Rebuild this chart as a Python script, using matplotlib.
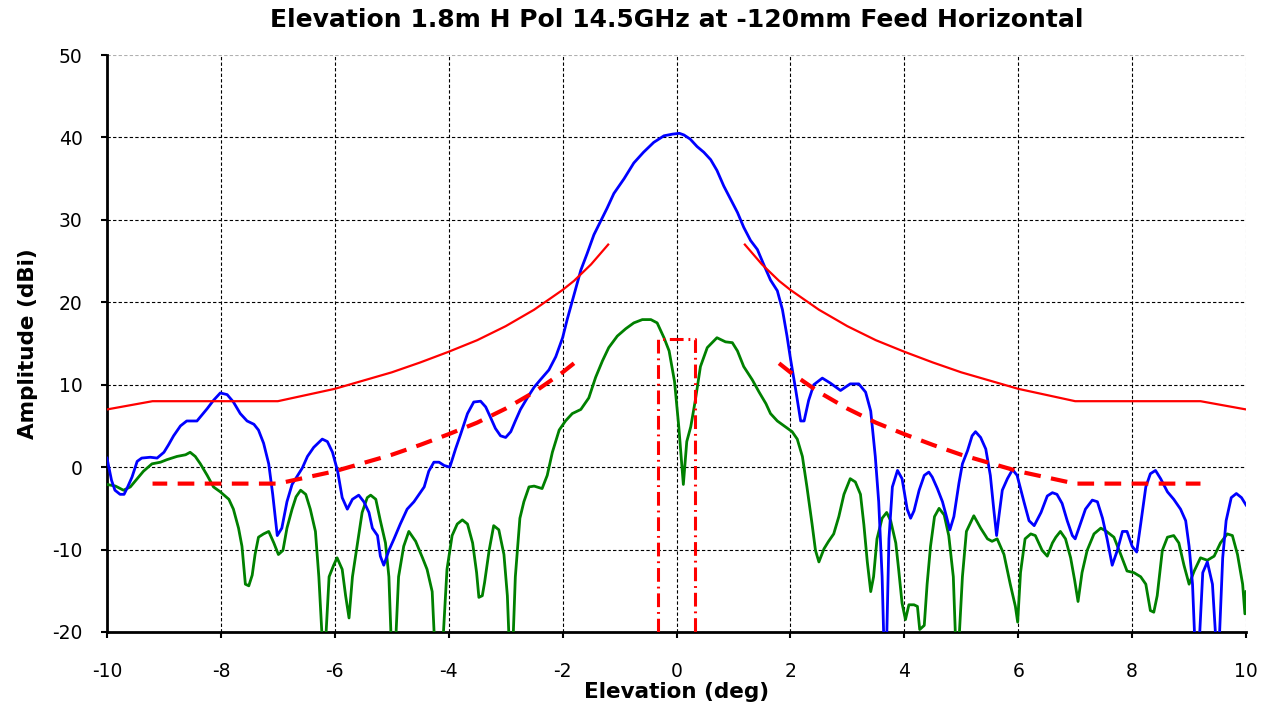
"""
Elevation pattern, 1.8m antenna, H pol, 14.5GHz
"""
import numpy as np
import matplotlib
matplotlib.use('Agg')
import matplotlib.pyplot as plt

plt.rcParams['axes.unicode_minus'] = False

title = 'Elevation 1.8m H Pol 14.5GHz at -120mm Feed Horizontal'

# co-polar pattern (elevation deg, dBi)
copol = [(-10.0, 1.1), (-9.92, -1.6), (-9.86, -2.8), (-9.77, -3.3), (-9.70, -3.3), (-9.65, -2.6),
         (-9.56, -1.2), (-9.47, 0.7), (-9.39, 1.1), (-9.24, 1.2), (-9.12, 1.1), (-9.0, 1.8),
         (-8.92, 2.7),
         (-8.83, 3.8), (-8.71, 5.0), (-8.60, 5.6), (-8.42, 5.6), (-8.36, 6.1), (-8.24, 7.1),
         (-8.13, 8.1), (-8.01, 9.0), (-7.89, 8.8), (-7.78, 7.9), (-7.66, 6.5), (-7.54, 5.6),
         (-7.42, 5.2), (-7.34, 4.5), (-7.25, 2.9), (-7.16, 0.4), (-7.09, -3.3), (-7.01, -8.3),
         (-6.93, -7.4), (-6.84, -4.2), (-6.75, -2.1), (-6.66, -1.1), (-6.57, -0.1), (-6.48, 1.3),
         (-6.37, 2.4), (-6.22, 3.4), (-6.13, 3.1), (-6.04, 1.8), (-5.95, -0.5), (-5.87, -3.7),
         (-5.78, -5.1), (-5.69, -3.9), (-5.58, -3.4), (-5.49, -4.2), (-5.40, -5.5), (-5.34, -7.4),
         (-5.25, -8.3), (-5.20, -10.8), (-5.14, -11.9), (-5.05, -10.1), (-4.96, -8.7), (-4.85, -6.9),
         (-4.73, -5.1), (-4.61, -4.2), (-4.52, -3.3), (-4.43, -2.4), (-4.35, -0.5), (-4.26, 0.6),
         (-4.17, 0.6), (-4.08, 0.2), (-3.98, 0.0), (-3.88, 2.2), (-3.79, 4.0), (-3.67, 6.5),
         (-3.56, 7.9), (-3.44, 8.0), (-3.35, 7.3), (-3.27, 6.1), (-3.18, 4.7), (-3.09, 3.8),
         (-3.0, 3.6), (-2.91, 4.3), (-2.83, 5.6), (-2.74, 7.0), (-2.62, 8.4), (-2.50, 9.7),
         (-2.39, 10.6), (-2.24, 11.8), (-2.12, 13.4), (-2.0, 15.7), (-1.92, 17.9), (-1.80, 20.9),
         (-1.68, 23.9), (-1.57, 25.9), (-1.45, 28.2), (-1.30, 30.3), (-1.22, 31.4), (-1.10, 33.2),
         (-0.92, 35.0), (-0.75, 36.9), (-0.58, 38.2), (-0.40, 39.4), (-0.22, 40.2), (-0.07, 40.4),
         (0.05, 40.5), (0.13, 40.3), (0.24, 39.8), (0.36, 38.9), (0.48, 38.2), (0.60, 37.3),
         (0.71, 36.0), (0.83, 34.1), (0.95, 32.5), (1.07, 30.9), (1.18, 29.1), (1.30, 27.5),
         (1.42, 26.4), (1.53, 24.6), (1.65, 22.7), (1.77, 21.4), (1.86, 19.1), (1.94, 15.9),
         (2.0, 13.2), (2.09, 9.5), (2.18, 5.6), (2.24, 5.6), (2.32, 8.1), (2.41, 10.0),
         (2.56, 10.8), (2.70, 10.2), (2.88, 9.3), (3.05, 10.1), (3.20, 10.1), (3.32, 9.1),
         (3.41, 6.8), (3.49, 1.3), (3.55, -4.2), (3.61, -13.3), (3.64, -21), (3.69, -21),
         (3.73, -8.7), (3.79, -2.4), (3.88, -0.4), (3.96, -1.4), (4.05, -5.1), (4.11, -6.2),
         (4.17, -5.3), (4.26, -2.8), (4.35, -1.0), (4.43, -0.6), (4.49, -1.2), (4.58, -2.6),
         (4.67, -4.2), (4.74, -6.0), (4.80, -7.6), (4.87, -6.0), (4.96, -1.9), (5.02, 0.4),
         (5.11, 2.0), (5.19, 3.8), (5.25, 4.3), (5.34, 3.6), (5.43, 2.2), (5.51, -1.0),
         (5.57, -5.1), (5.62, -8.3), (5.66, -6.0), (5.72, -2.8), (5.81, -1.4), (5.90, -0.3),
         (5.98, -1.0), (6.10, -4.2), (6.19, -6.5), (6.28, -7.1), (6.40, -5.5), (6.51, -3.5),
         (6.60, -3.1), (6.68, -3.3), (6.77, -4.4), (6.86, -6.5), (6.95, -8.3), (7.0, -8.7),
         (7.09, -6.9), (7.18, -5.1), (7.30, -4.0), (7.39, -4.2), (7.48, -6.2), (7.56, -8.7),
         (7.65, -11.9), (7.74, -10.1), (7.83, -7.8), (7.91, -7.8), (8.0, -9.6), (8.08, -10.3),
         (8.15, -6.9), (8.24, -2.4), (8.32, -0.8), (8.41, -0.4), (8.50, -1.4), (8.62, -3.0),
         (8.73, -3.9), (8.85, -5.1), (8.94, -6.5), (9.0, -9.6), (9.06, -14.2), (9.10, -21),
         (9.18, -21), (9.24, -12.8), (9.32, -11.5), (9.41, -14.2), (9.47, -21), (9.53, -21),
         (9.59, -11.0), (9.65, -6.5), (9.74, -3.7), (9.83, -3.2), (9.92, -3.7), (10.0, -4.6)]

# cross-polar pattern
xpol = [(-10.0, -2.1), (-9.85, -2.3), (-9.71, -2.8), (-9.59, -2.4), (-9.47, -1.4), (-9.36, -0.5),
        (-9.21, 0.4), (-9.06, 0.6), (-8.95, 0.9), (-8.77, 1.3), (-8.62, 1.5), (-8.54, 1.8),
        (-8.45, 1.3), (-8.36, 0.4), (-8.24, -1.0), (-8.13, -2.4), (-8.01, -3.0), (-7.86, -3.9),
        (-7.78, -5.1), (-7.69, -7.4), (-7.63, -9.6), (-7.57, -14.2), (-7.51, -14.4), (-7.45, -13.1),
        (-7.40, -10.6), (-7.34, -8.5), (-7.25, -8.1), (-7.16, -7.8), (-7.07, -9.2), (-6.99, -10.6),
        (-6.91, -10.1), (-6.84, -7.4), (-6.75, -5.1), (-6.68, -3.6), (-6.60, -2.8), (-6.51, -3.3),
        (-6.43, -5.1), (-6.34, -7.8), (-6.28, -13.3), (-6.22, -21), (-6.16, -21), (-6.10, -13.3),
        (-6.02, -11.9), (-5.96, -11.0), (-5.87, -12.4), (-5.81, -15.6), (-5.75, -18.3), (-5.69, -13.3),
        (-5.61, -9.6), (-5.52, -5.5), (-5.43, -3.7), (-5.37, -3.4), (-5.28, -3.9), (-5.20, -6.5),
        (-5.11, -9.2), (-5.05, -13.3), (-5.01, -21), (-4.93, -21), (-4.88, -13.3), (-4.79, -9.6),
        (-4.70, -7.8), (-4.58, -9.0), (-4.46, -11.0), (-4.38, -12.4), (-4.29, -15.1), (-4.25, -21),
        (-4.10, -21), (-4.03, -12.4), (-3.94, -8.3), (-3.85, -6.9), (-3.76, -6.4), (-3.67, -6.9),
        (-3.58, -9.2), (-3.51, -12.8), (-3.47, -15.8), (-3.41, -15.6), (-3.37, -14.0), (-3.29, -10.1),
        (-3.21, -7.1), (-3.12, -7.6), (-3.03, -10.6), (-2.97, -15.6), (-2.94, -21), (-2.87, -21),
        (-2.83, -13.3), (-2.75, -6.2), (-2.68, -4.2), (-2.59, -2.4), (-2.50, -2.3), (-2.36, -2.6),
        (-2.27, -1.0), (-2.18, 1.8), (-2.06, 4.5), (-1.95, 5.6), (-1.83, 6.5), (-1.68, 7.0),
        (-1.54, 8.4), (-1.42, 10.9), (-1.30, 12.9), (-1.19, 14.5), (-1.04, 15.9), (-0.89, 16.8),
        (-0.75, 17.5), (-0.60, 17.9), (-0.45, 17.9), (-0.34, 17.5), (-0.22, 15.7), (-0.13, 14.1),
        (-0.035, 10.4), (0.04, 4.9), (0.12, -2.1), (0.18, 3.1), (0.25, 4.9), (0.33, 8.1),
        (0.42, 12.2), (0.54, 14.5), (0.71, 15.7), (0.86, 15.2), (0.98, 15.1), (1.07, 14.1),
        (1.18, 12.2), (1.33, 10.6), (1.45, 9.1), (1.57, 7.7), (1.65, 6.5), (1.77, 5.6),
        (1.91, 4.9), (2.03, 4.3), (2.12, 3.4), (2.21, 1.3), (2.29, -2.4), (2.38, -6.9),
        (2.44, -10.1), (2.50, -11.5), (2.59, -9.9), (2.67, -9.0), (2.76, -8.1), (2.85, -6.0),
        (2.94, -3.3), (3.05, -1.4), (3.14, -1.8), (3.23, -3.3), (3.29, -7.0), (3.35, -11.5),
        (3.41, -15.1), (3.46, -13.3), (3.52, -8.7), (3.61, -6.2), (3.69, -5.5), (3.76, -6.5),
        (3.85, -9.2), (3.90, -12.4), (3.96, -16.5), (4.02, -18.5), (4.08, -16.7), (4.17, -16.7),
        (4.23, -16.9), (4.27, -19.7), (4.35, -19.2), (4.40, -14.2), (4.46, -9.6), (4.53, -6.0),
        (4.61, -5.0), (4.70, -5.8), (4.78, -8.3), (4.86, -13.3), (4.90, -21), (4.96, -21),
        (5.02, -13.3), (5.09, -7.8), (5.22, -5.9), (5.34, -7.4), (5.46, -8.7), (5.54, -9.0),
        (5.63, -8.7), (5.75, -10.6), (5.86, -14.2), (5.95, -16.9), (5.99, -18.8), (6.04, -12.8),
        (6.12, -8.7), (6.22, -8.1), (6.30, -8.3), (6.42, -10.1), (6.51, -10.8), (6.60, -9.2),
        (6.66, -8.5), (6.74, -7.8), (6.83, -8.7), (6.92, -11.0), (6.99, -13.7), (7.05, -16.3),
        (7.12, -12.8), (7.21, -10.1), (7.33, -8.1), (7.45, -7.4), (7.55, -7.8), (7.68, -8.5),
        (7.80, -10.6), (7.91, -12.6), (8.03, -12.8), (8.15, -13.3), (8.24, -14.2), (8.32, -17.4),
        (8.38, -17.6), (8.44, -15.6), (8.53, -10.1), (8.62, -8.5), (8.73, -8.3), (8.82, -9.2),
        (8.91, -11.9), (9.0, -14.2), (9.09, -12.6), (9.20, -11.0), (9.32, -11.3), (9.44, -10.8),
        (9.55, -9.2), (9.67, -8.1), (9.76, -8.3), (9.85, -10.6), (9.94, -14.2), (9.98, -17.8),
        (10.0, -15.1)]

# envelope masks, one side (|angle|), mirrored for negative angles
upper_ang = [1.2, 1.5, 1.8, 2.0, 2.5, 3.0, 3.5, 4.0, 4.5, 5.0, 6.0, 7.0, 9.2, 10.0]
upper_lvl = [27.0, 24.6, 22.6, 21.5, 19.1, 17.1, 15.4, 14.0, 12.7, 11.5, 9.5, 8.0, 8.0, 7.0]
lower_ang = [1.8, 2.0, 2.5, 3.0, 3.5, 4.0, 4.5, 5.0, 6.0, 7.0, 9.2]
lower_lvl = [12.6, 11.5, 9.1, 7.1, 5.4, 4.0, 2.7, 1.5, -0.5, -2.0, -2.0]

# main beam box
box_half = 0.33
box_top = 15.5

fig = plt.figure(figsize=(12.72, 7.07), dpi=100)
ax = fig.add_axes([0.0841, 0.1061, 0.8955, 0.8161])

cx, cy = np.array(copol).T
px, py = np.array(xpol).T
ax.plot(cx, cy, color='#0000ff', lw=2.0, zorder=4)
ax.plot(px, py, color='#008000', lw=2.0, zorder=3)

ua = np.array(upper_ang)
la = np.array(lower_ang)
for s in (-1, 1):
    ax.plot(s*ua, upper_lvl, color='#ff0000', lw=1.6, zorder=5)
    ax.plot(s*la, lower_lvl, color='#ff0000', lw=3.0, dashes=(4, 2.5), zorder=5)

ax.plot([-box_half, -box_half, box_half, box_half], [-20, box_top, box_top, -20],
        color='#ff0000', lw=2.2, dashes=(4.5, 1.6, 0.6, 1.6), zorder=5)

ax.set_xlim(-10, 10)
ax.set_ylim(-20, 50)
ax.set_xticks(np.arange(-10, 11, 2))
ax.set_yticks(np.arange(-20, 51, 10))
ax.grid(True, color='black', linestyle=(0, (3, 2)), linewidth=0.8)
xg = ax.xaxis.get_gridlines()
yg = ax.yaxis.get_gridlines()
xg[-1].set_color('#b0b0b0')
yg[-1].set_color('#b0b0b0')

for side in ('top', 'right'):
    ax.spines[side].set_visible(False)
for side in ('left', 'bottom'):
    ax.spines[side].set_linewidth(2)
ax.tick_params(direction='out', length=4.5, width=1.5, labelsize=13.5)
ax.tick_params(axis='x', pad=17)
ax.tick_params(axis='y', pad=13)

ax.set_title(title, fontsize=18, fontweight='bold', pad=20)
ax.set_xlabel('Elevation (deg)', fontsize=15.5, fontweight='bold', labelpad=1)
ax.set_ylabel('Amplitude (dBi)', fontsize=15.5, fontweight='bold', labelpad=10)

fig.savefig('out.png', dpi=100)
